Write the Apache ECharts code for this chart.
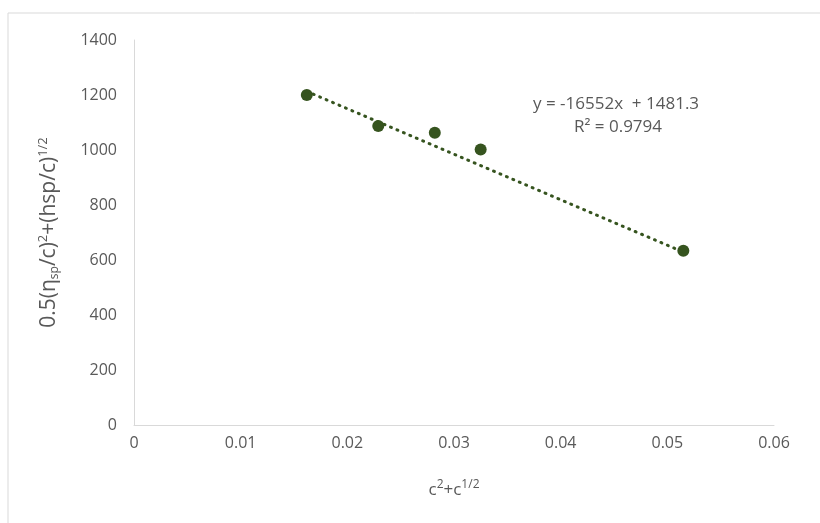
<!DOCTYPE html>
<html>
<head>
<meta charset="utf-8">
<script src="https://cdn.jsdelivr.net/npm/echarts@6/dist/echarts.min.js"></script>
<style>html,body{margin:0;padding:0;background:#fff}#chart{width:820px;height:523px}</style>
</head>
<body>
<div id="chart"></div>
<script>
// Measured points: x = c^2 + c^(1/2), y = 0.5(eta_sp/c)^2 + (hsp/c)^(1/2)
const xValues = [0.0162, 0.0229, 0.0282, 0.0325, 0.0515];
const yValues = [1200, 1087, 1063, 1002, 634];
// Linear trendline coefficients as printed on the chart
const slope = -16552;
const intercept = 1481.3;
const rSquared = 0.9794;
const xTicks = [0, 0.01, 0.02, 0.03, 0.04, 0.05, 0.06];
const yTicks = [0, 200, 400, 600, 800, 1000, 1200, 1400];

const points = xValues.map((x, i) => [x, yValues[i]]);
const xLo = Math.min(...xValues), xHi = Math.max(...xValues);
const trend = [[xLo, slope * xLo + intercept], [xHi, slope * xHi + intercept]];

const green = '#36541f';
const textGrey = '#595959';
const font = 'Open Sans';

const chart = echarts.init(document.getElementById('chart'));
chart.setOption({
  animation: false,
  backgroundColor: '#fff',
  grid: { left: 134, right: 46, top: 40, bottom: 98 },
  graphic: [{
    type: 'rect', shape: { x: 8, y: 13, width: 830, height: 530 },
    style: { fill: 'none', stroke: '#d9d9d9', lineWidth: 1 }, silent: true
  }, {
    type: 'text', left: 533, top: 96,
    style: { text: 'y = -16552x  + 1481.3', fill: textGrey, font: '17px "Open Sans"' }
  }, {
    type: 'text', left: 574, top: 119,
    style: { text: 'R² = ' + rSquared, fill: textGrey, font: '17px "Open Sans"' }
  }],
  xAxis: {
    type: 'value', min: xTicks[0], max: xTicks[xTicks.length - 1], interval: 0.01,
    axisLine: { show: true, lineStyle: { color: '#d9d9d9' } },
    axisTick: { show: false }, splitLine: { show: false },
    axisLabel: { color: textGrey, fontFamily: font, fontSize: 16, margin: 10 },
    name: '{b|c}{s|2}{b|+c}{s|1/2}', nameLocation: 'middle', nameGap: 54,
    nameTextStyle: {
      rich: {
        b: { fontFamily: font, fontSize: 17, color: textGrey },
        s: { fontFamily: font, fontSize: 12, color: textGrey, padding: [0, 0, 10, 0] }
      }
    }
  },
  yAxis: {
    type: 'value', min: yTicks[0], max: yTicks[yTicks.length - 1], interval: 200,
    axisLine: { show: true, lineStyle: { color: '#d9d9d9' } },
    axisTick: { show: false }, splitLine: { show: false },
    axisLabel: { color: textGrey, fontFamily: font, fontSize: 16, margin: 17, formatter: v => String(v) },
    name: '{b|0.5(η}{d|sp}{b|/c)}{s|2}{b|+(hsp/c)}{s|1/2}', nameLocation: 'middle', nameGap: 72, nameRotate: 90,
    nameTextStyle: {
      rich: {
        b: { fontFamily: font, fontSize: 21, color: textGrey },
        d: { fontFamily: font, fontSize: 12, color: textGrey, padding: [11, 0, 0, 0] },
        s: { fontFamily: font, fontSize: 13, color: textGrey, padding: [0, 0, 12, 0] }
      }
    }
  },
  series: [{
    type: 'line', data: trend, symbol: 'none', silent: true,
    lineStyle: { color: green, width: 3, type: [1, 6], cap: 'round' }
  }, {
    type: 'scatter', data: points, symbol: 'circle', symbolSize: 12,
    itemStyle: { color: green, opacity: 1 }
  }]
});
</script>
</body>
</html>
